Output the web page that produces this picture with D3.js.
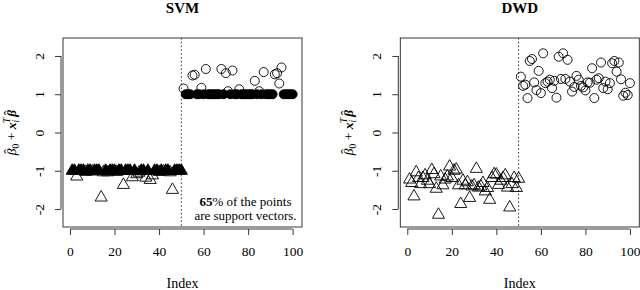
<!DOCTYPE html>
<html><head><meta charset="utf-8">
<script src="https://cdn.jsdelivr.net/npm/d3@7"></script>
<style>
body{margin:0;background:#fff}
svg{display:block}
text{font-family:"Liberation Serif","DejaVu Serif",serif;fill:#000}
</style>
</head><body>
<svg id="chart" width="640" height="290"></svg>
<script>
// ---------- data ----------
const indexClass1 = d3.range(1, 51);
const indexClass2 = d3.range(51, 101);

// SVM fitted values (|value| == 1  -> support vector, drawn filled)
const svmClass1 = [
  -1, -1, -1.15, -1, -1, -1, -1.03, -1, -1, -1.02,
  -1, -1, -1, -1.70, -1.04, -1, -1.04, -1, -1, -1,
  -1.03, -1, -1, -1.37, -1, -1, -1, -1.17, -1, -1.09,
  -1.05, -1, -1, -1.18, -1, -1.24, -1.12, -1, -1, -1.03,
  -1, -1.02, -1, -1, -1.04, -1.50, -1, -1, -1, -1
];
const svmClass2 = [
  1.15, 1, 1, 1, 1.49, 1.51, 1, 1, 1.17, 1,
  1.66, 1, 1, 1, 1, 1, 1, 1.66, 1, 1.55,
  1.08, 1, 1.62, 1, 1, 1.13, 1, 1, 1, 1,
  1, 1, 1.35, 1, 1.08, 1, 1.58, 1, 1, 1,
  1, 1.52, 1.55, 1.28, 1.70, 1, 1, 1, 1, 1
];

// DWD fitted values
const dwdClass1 = [
  -1.23, -1.32, -1.67, -1.04, -1.19, -1.35, -1.19, -1.12, -1.26, -1.35,
  -0.98, -1.09, -1.47, -2.15, -1.15, -1.38, -1.23, -1.15, -0.89, -1.19,
  -1.00, -0.97, -1.38, -1.87, -1.26, -1.38, -1.30, -1.71, -1.41, -1.38,
  -0.95, -1.44, -1.41, -1.32, -1.54, -1.45, -1.76, -1.19, -1.09, -1.10,
  -1.37, -1.26, -1.19, -1.12, -1.44, -1.96, -1.35, -1.19, -1.45, -1.21
];
const dwdClass2 = [
  1.46, 1.22, 1.25, 0.90, 1.87, 1.92, 1.31, 1.11, 1.61, 1.03,
  2.07, 1.29, 1.33, 1.38, 1.16, 1.35, 0.91, 1.98, 1.40, 2.07,
  1.40, 1.90, 1.33, 1.07, 1.19, 1.48, 1.38, 1.22, 1.18, 1.10,
  1.31, 1.30, 1.68, 0.90, 1.38, 1.42, 1.83, 1.16, 1.33, 1.13,
  1.29, 1.81, 1.87, 1.59, 1.83, 1.39, 0.96, 1.04, 0.98, 1.29
];

const xTicks = [0, 20, 40, 60, 80, 100];
const yTicks = [-2, -1, 0, 1, 2];
const panelTitles = ["SVM", "DWD"];
const classBoundary = 50;
const xDomain = [-3.14, 104.2];
const yDomain = [-2.47, 2.47];
const noteBold = "65";
const noteRest = "% of the points";
const noteLine2 = "are support vectors.";

// ---------- layout ----------
const svg = d3.select("#chart");
const plotTop = 38, plotBottom = 227;
const panels = [
  {x0: 63, x1: 302, title: panelTitles[0], c1: svmClass1, c2: svmClass2, sv: true},
  {x0: 400.3, x1: 639.3, title: panelTitles[1], c1: dwdClass1, c2: dwdClass2, sv: false}
];

// R-style triangle (pch 2 / 17) as a d3 symbol type, size = circle radius
const rTriangle = {
  draw(ctx, r) {
    const h = 1.555 * r, w = 1.347 * r, b = 0.778 * r;
    ctx.moveTo(0, -h);
    ctx.lineTo(w, b);
    ctx.lineTo(-w, b);
    ctx.closePath();
  }
};
const rCircle = {
  draw(ctx, r) { ctx.moveTo(r, 0); ctx.arc(0, 0, r, 0, 2 * Math.PI); }
};
const R = 4.5;
const serif = '"Liberation Serif","DejaVu Serif",serif';

panels.forEach(p => {
  const g = svg.append("g");
  const x = d3.scaleLinear().domain(xDomain).range([p.x0, p.x1]);
  const y = d3.scaleLinear().domain(yDomain).range([plotBottom, plotTop]);

  // box
  g.append("rect").attr("x", p.x0).attr("y", plotTop)
    .attr("width", p.x1 - p.x0).attr("height", plotBottom - plotTop)
    .attr("fill", "none").attr("stroke", "#222").attr("stroke-width", 0.9);

  // x axis
  const xa = g.append("g").attr("transform", `translate(0,${plotBottom + 2})`)
    .call(d3.axisBottom(x).tickValues(xTicks).tickSize(6).tickFormat(d3.format("d")));
  xa.attr("font-family", serif);
  xa.select(".domain").remove();
  xa.append("line").attr("x1", x(xTicks[0])).attr("x2", x(xTicks[xTicks.length - 1]))
    .attr("stroke", "#222").attr("stroke-width", 0.9);
  xa.selectAll(".tick line").attr("stroke", "#222").attr("stroke-width", 0.9);
  xa.selectAll(".tick text").attr("y", 26.5).attr("dy", null)
    .style("font-size", "13.5px").style("font-family", serif);

  // y axis
  const ya = g.append("g").attr("transform", `translate(${p.x0 - 2},0)`)
    .call(d3.axisLeft(y).tickValues(yTicks).tickSize(6).tickFormat(d => d < 0 ? "-" + Math.abs(d) : String(d)));
  ya.attr("font-family", serif);
  ya.select(".domain").remove();
  ya.append("line").attr("y1", y(yTicks[0])).attr("y2", y(yTicks[yTicks.length - 1]))
    .attr("stroke", "#222").attr("stroke-width", 0.9);
  ya.selectAll(".tick line").attr("stroke", "#222").attr("stroke-width", 0.9);
  ya.selectAll(".tick text")
    .attr("x", null).attr("dy", null).attr("text-anchor", "middle")
    .attr("transform", "translate(-17,0) rotate(-90)")
    .style("font-size", "13.5px").style("font-family", serif);

  // title
  g.append("text").attr("x", (p.x0 + p.x1) / 2).attr("y", 13)
    .attr("text-anchor", "middle").style("font-weight", "bold").style("font-size", "15px")
    .text(p.title);

  // x label
  g.append("text").attr("x", (p.x0 + p.x1) / 2).attr("y", 287.5)
    .attr("text-anchor", "middle").style("font-size", "14px").text("Index");

  // y label: β̂0 + x_i^T β̂
  const yl = g.append("text")
    .attr("transform", `translate(${p.x0 - 47},${(plotTop + plotBottom) / 2}) rotate(-90)`)
    .attr("text-anchor", "middle").style("font-size", "13.5px");
  yl.append("tspan").style("font-style", "italic").text("β");
  yl.append("tspan").attr("dx", -5.2).attr("dy", -3).text("ˆ");
  yl.append("tspan").attr("dx", 0.8).attr("dy", 6).style("font-size", "9.5px").text("0");
  yl.append("tspan").attr("dy", -3).text(" + ");
  yl.append("tspan").style("font-weight", "bold").style("font-style", "italic").text("x");
  yl.append("tspan").attr("dy", 3).style("font-size", "9.5px").style("font-style", "italic").text("i");
  yl.append("tspan").attr("dx", -3).attr("dy", -9).style("font-size", "9.5px").style("font-style", "italic").text("T");
  yl.append("tspan").attr("dx", 1).attr("dy", 6).style("font-weight", "bold").style("font-style", "italic").text("β");
  yl.append("tspan").attr("dx", -5.4).attr("dy", -3).text("ˆ");

  // class boundary
  g.append("line").attr("x1", x(classBoundary)).attr("x2", x(classBoundary))
    .attr("y1", plotTop).attr("y2", plotBottom)
    .attr("stroke", "#222").attr("stroke-width", 0.9).attr("stroke-dasharray", "1.6,2.2");

  const isSV = v => p.sv && Math.abs(v) === 1;
  const tri = d3.symbol().type(rTriangle).size(R);
  const circ = d3.symbol().type(rCircle).size(R);

  g.append("g").selectAll("path").data(p.c1.map((v, i) => ({i: indexClass1[i], v})))
    .join("path")
    .attr("transform", d => `translate(${x(d.i)},${y(d.v)})`)
    .attr("d", tri)
    .attr("fill", d => isSV(d.v) ? "#000" : "none")
    .attr("stroke", "#000").attr("stroke-width", 0.9);

  g.append("g").selectAll("path").data(p.c2.map((v, i) => ({i: indexClass2[i], v})))
    .join("path")
    .attr("transform", d => `translate(${x(d.i)},${y(d.v)})`)
    .attr("d", circ)
    .attr("fill", d => isSV(d.v) ? "#000" : "none")
    .attr("stroke", "#000").attr("stroke-width", 0.9);

  if (p.sv) {
    const cx = 245.5;
    const t1 = g.append("text").attr("x", cx).attr("y", 206).attr("text-anchor", "middle")
      .style("font-size", "13px");
    t1.append("tspan").style("font-weight", "bold").text(noteBold);
    t1.append("tspan").text(noteRest);
    g.append("text").attr("x", cx).attr("y", 219.5).attr("text-anchor", "middle")
      .style("font-size", "13px").text(noteLine2);
  }
});
</script>
</body></html>
